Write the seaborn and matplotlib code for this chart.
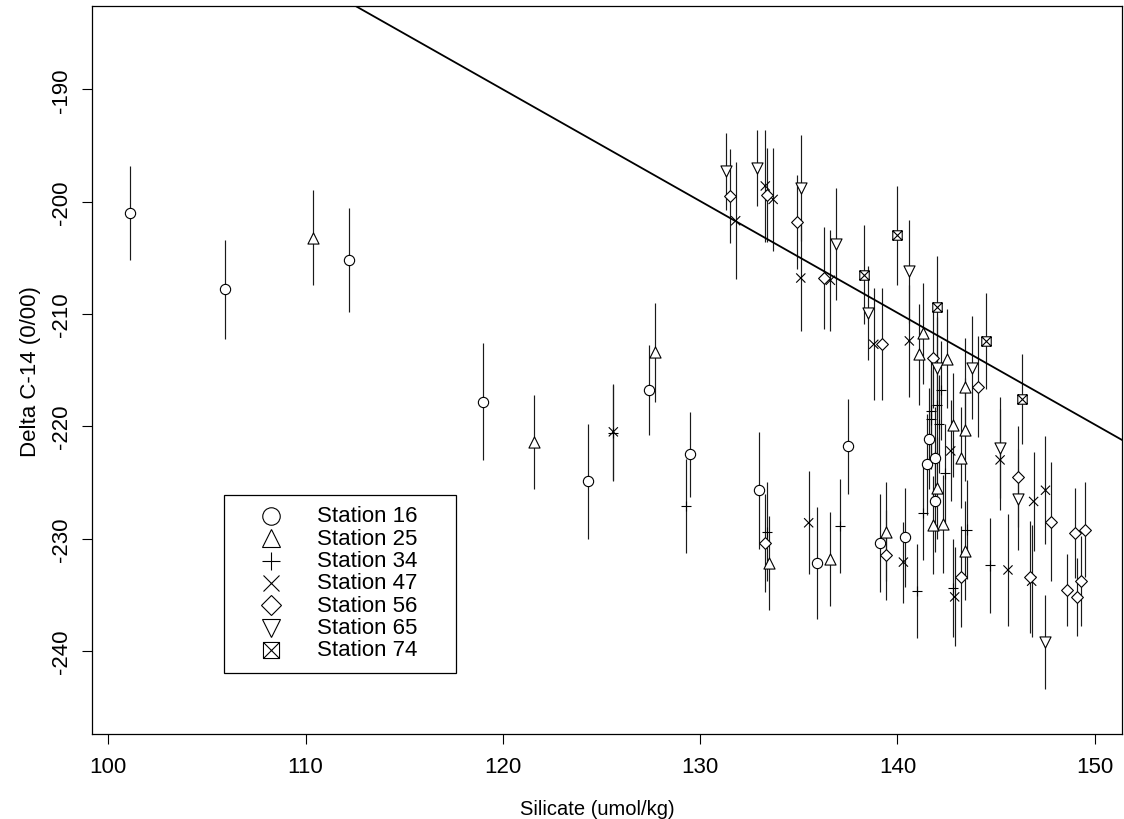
import numpy as np
import pandas as pd
import matplotlib
matplotlib.use("Agg")
import matplotlib.pyplot as plt
import seaborn as sns
from matplotlib.path import Path
from matplotlib.lines import Line2D
from matplotlib.patches import Rectangle

# ---- data ----
stations = ["Station 16", "Station 25", "Station 34", "Station 47",
            "Station 56", "Station 65", "Station 74"]

st16_si = [101.1, 105.9, 112.2, 119.0, 124.3, 127.4, 129.5, 133.0, 135.9, 137.5,
           139.1, 140.4, 141.6, 141.5, 141.9, 141.9]
st16_c14 = [-201.0, -207.8, -205.2, -217.8, -224.9, -216.8, -222.5, -225.7, -232.2, -221.8,
            -230.4, -229.9, -221.1, -223.4, -222.8, -226.7]
st16_err = [4.2, 4.4, 4.6, 5.2, 5.1, 4.0, 3.8, 5.2, 5.0, 4.2,
            4.4, 4.4, 4.5, 4.5, 4.5, 4.5]

st25_si = [110.4, 121.6, 127.7, 133.5, 136.6, 139.4, 141.3, 141.1, 142.5, 143.4,
           142.8, 143.4, 143.2, 142.0, 141.8, 142.3, 143.4]
st25_c14 = [-203.2, -221.4, -213.4, -232.2, -231.8, -229.4, -211.7, -213.6, -214.0, -216.5,
            -219.9, -220.3, -222.8, -225.5, -228.8, -228.7, -231.1]
st25_err = [4.2, 4.2, 4.4, 4.2, 4.2, 4.4, 4.5, 4.5, 4.4, 4.4,
            4.6, 4.6, 4.5, 4.5, 4.4, 4.4, 4.4]

st34_si = [125.6, 129.3, 133.4, 137.1, 141.0, 141.3, 142.4, 143.5, 142.8, 144.7,
           142.2, 142.0, 141.7, 142.1, 141.7]
st34_c14 = [-220.6, -227.1, -229.4, -228.9, -234.7, -227.7, -224.2, -229.2, -234.4, -232.4,
            -216.8, -218.1, -218.6, -219.8, -219.4]
st34_err = [4.3, 4.2, 4.4, 4.2, 4.2, 4.2, 4.4, 4.4, 4.4, 4.2,
            4.4, 4.4, 4.4, 4.4, 4.4]

st47_si = [125.6, 131.8, 133.3, 133.7, 135.1, 136.6, 138.8, 140.6, 135.5, 140.3,
           142.7, 142.9, 145.2, 146.9, 147.5, 145.6, 146.8]
st47_c14 = [-220.5, -201.7, -198.6, -199.8, -206.8, -207.0, -212.7, -212.4, -228.6, -232.1,
            -222.2, -235.2, -223.0, -226.7, -225.7, -232.8, -233.8]
st47_err = [4.3, 5.2, 5.0, 4.6, 4.7, 4.5, 5.0, 5.0, 4.6, 3.6,
            4.5, 4.4, 4.5, 4.4, 4.8, 5.0, 5.0]

st56_si = [131.5, 133.4, 134.9, 136.3, 139.2, 141.8, 144.1, 133.3, 139.4, 143.2,
           146.1, 147.8, 149.0, 149.5, 146.7, 148.6, 149.3, 149.1]
st56_c14 = [-199.5, -199.4, -201.8, -206.8, -212.7, -213.9, -216.5, -230.4, -231.5, -233.4,
            -224.5, -228.5, -229.5, -229.2, -233.4, -234.6, -233.8, -235.2]
st56_err = [4.2, 4.2, 4.2, 4.5, 5.0, 4.5, 4.5, 4.4, 4.0, 4.5,
            4.5, 5.3, 4.0, 4.2, 5.0, 3.2, 4.0, 3.5]

st65_si = [131.3, 132.9, 135.1, 136.9, 138.5, 140.6, 142.0, 143.8, 145.2, 146.1, 147.5]
st65_c14 = [-197.3, -197.0, -198.8, -203.8, -209.9, -206.2, -214.8, -214.8, -221.9, -226.5, -239.2]
st65_err = [3.4, 3.4, 4.7, 5.0, 4.2, 4.6, 4.5, 4.6, 4.5, 4.5, 4.2]

st74_si = [138.3, 140.0, 142.0, 144.5, 146.3]
st74_c14 = [-206.5, -203.0, -209.4, -212.4, -217.6]
st74_err = [4.4, 4.4, 4.6, 4.3, 4.0]

line_intercept = -70.6
line_slope = -0.995

x_ticks = [100, 110, 120, 130, 140, 150]
y_ticks = [-240, -230, -220, -210, -200, -190]

all_si = [st16_si, st25_si, st34_si, st47_si, st56_si, st65_si, st74_si]
all_c14 = [st16_c14, st25_c14, st34_c14, st47_c14, st56_c14, st65_c14, st74_c14]
all_err = [st16_err, st25_err, st34_err, st47_err, st56_err, st65_err, st74_err]

df = pd.concat([
    pd.DataFrame({"station": s, "silicate": si, "c14": c, "err": e})
    for s, si, c, e in zip(stations, all_si, all_c14, all_err)
], ignore_index=True)

# ---- markers (R pch 1..7 look) ----
boxx = Path([(-1, -1), (1, -1), (1, 1), (-1, 1), (-1, -1),
             (-1, -1), (1, 1), (-1, 1), (1, -1)],
            [Path.MOVETO, Path.LINETO, Path.LINETO, Path.LINETO, Path.CLOSEPOLY,
             Path.MOVETO, Path.LINETO, Path.MOVETO, Path.LINETO])
markers = {"Station 16": ("o", 7.4), "Station 25": ("^", 8.0), "Station 34": ("+", 7.4),
           "Station 47": ("x", 6.6), "Station 56": ("D", 6.0), "Station 65": ("v", 8.0),
           "Station 74": (boxx, 6.8)}

sns.set_theme(style="ticks")
plt.rcParams["font.family"] = ["Liberation Sans", "DejaVu Sans"]

fig = plt.figure(figsize=(11.24, 8.2), dpi=100)
ax = fig.add_axes([0.0822, 0.1038, 0.9164, 0.8873])

ax.vlines(df["silicate"], df["c14"] - df["err"], df["c14"] + df["err"],
          color="#1a1a1a", linewidth=0.85, zorder=2)

for st in stations:
    m, ms = markers[st]
    sub = df[df["station"] == st]
    sns.scatterplot(data=sub, x="silicate", y="c14", marker=m, s=ms ** 2,
                    color="black", legend=False, ax=ax, zorder=3)
    coll = ax.collections[-1]
    coll.set_facecolor("white" if m not in ("+", "x") else "none")
    coll.set_edgecolor("black")
    coll.set_linewidth(0.8)

ax.axline((0, line_intercept), slope=line_slope, color="black", linewidth=1.3, zorder=4)

ax.set_xlim(99.2, 151.4)
ax.set_ylim(-247.4, -182.6)
ax.set_xticks(x_ticks)
ax.set_yticks(y_ticks)
ax.set_yticklabels([str(t) for t in y_ticks], rotation=90, va="center")
ax.tick_params(axis="both", direction="out", length=7, width=0.8, color="black",
               labelsize=16, labelcolor="black")
ax.tick_params(axis="x", pad=9)
ax.tick_params(axis="y", pad=8)
for sp in ax.spines.values():
    sp.set_visible(True)
    sp.set_color("black")
    sp.set_linewidth(0.9)
ax.set_facecolor("white")
ax.grid(False)

ax.set_xlabel("Silicate (umol/kg)", fontsize=14.5, color="black")
ax.set_ylabel("Delta C-14 (0/00)", fontsize=16, color="black")
ax.xaxis.set_label_coords(0.49, -0.090)
ax.yaxis.set_label_coords(-0.050, 0.5)

# ---- legend box drawn like R's legend() ----
W, H = 1124.0, 820.0
fig.add_artist(Rectangle((224 / W, 1 - 674 / H), (456 - 224) / W, (674 - 496) / H,
                         transform=fig.transFigure, facecolor="white",
                         edgecolor="black", linewidth=0.9, zorder=5))
for i, st in enumerate(stations):
    yy = 1 - (517 + 22.3 * i) / H
    m, ms = markers[st]
    fig.add_artist(Line2D([271 / W], [yy], transform=fig.transFigure, marker=m,
                          markersize=ms * 1.7, markerfacecolor="white",
                          markeredgecolor="black", markeredgewidth=0.8,
                          linestyle="none", zorder=6))
    fig.text(317 / W, yy, st, fontsize=16, va="center", ha="left", color="black", zorder=6)

fig.savefig("out.png", dpi=100, facecolor="white")
